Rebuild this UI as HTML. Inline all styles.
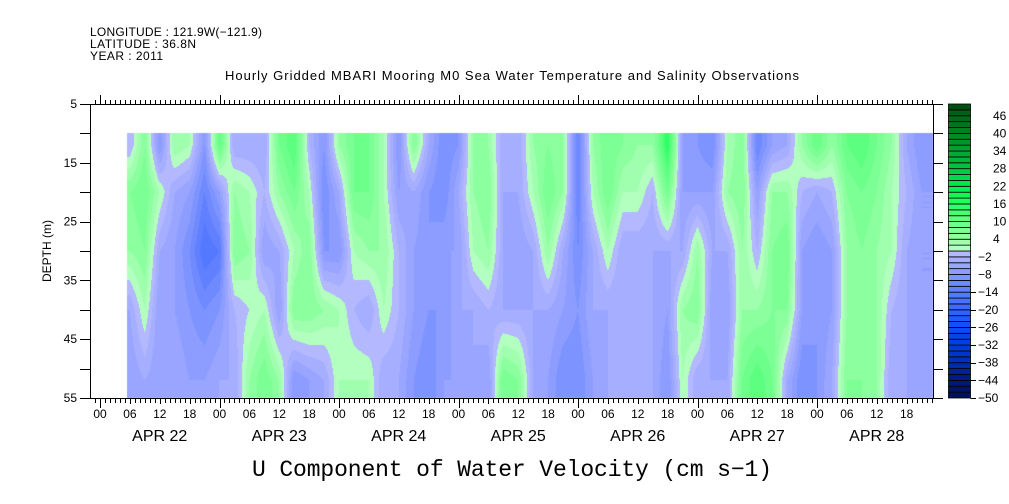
<!DOCTYPE html>
<html><head><meta charset="utf-8">
<style>
html,body{margin:0;padding:0;background:#fff;}
#wrap{position:relative;width:1009px;height:504px;overflow:hidden;}
svg text{font-family:"Liberation Sans",sans-serif;fill:#000;}
canvas{position:absolute;left:0;top:0;}
</style></head>
<body>
<div id="wrap">
<canvas id="heat" width="1009" height="504"></canvas>
<svg id="ov" width="1009" height="504" style="position:absolute;left:0;top:0">
  <text x="90" y="36" font-size="12" textLength="172">LONGITUDE : 121.9W(−121.9)</text>
  <text x="90" y="48" font-size="12" textLength="106">LATITUDE : 36.8N</text>
  <text x="90" y="60" font-size="12" textLength="73">YEAR : 2011</text>
  <text x="512" y="80" font-size="13" text-anchor="middle" textLength="574">Hourly Gridded MBARI Mooring M0 Sea Water Temperature and Salinity Observations</text>
  <text transform="translate(51,251) rotate(-90)" font-size="12" text-anchor="middle">DEPTH (m)</text>
  <text x="512" y="476" font-size="23" text-anchor="middle" textLength="520" style="font-family:'Liberation Mono',monospace">U Component of Water Velocity (cm s−1)</text>
  <g id="axes"></g>
  <g id="cbar"></g>
</svg>
</div>
<script>
// hours since APR 22 00:00 for each column of data
const hours = [6,9,12,15,18,21,24,27,30,33,36,39,42,45,48,51,54,57,60,63,66,69,72,75,78,81,84,87,90,93,96,99,102,105,108,111,114,117,120,123,126,129,132,135,138,141,144,147,150,153,156,159,162,165];
const depths = [12,20,30,40,52];
// U velocity (cm/s) per depth row
const u12 = [-2,6,-8,4,2,-8,10,-4,-4,-4,8,12,-2,-8,4,8,8,2,-8,6,-4,-10,-8,4,4,-4,-4,4,6,4,-12,4,8,6,4,4,16,-6,-8,-10,2,6,-12,-6,-4,4,10,4,10,12,8,4,-4,-8];
const u20 = [6,8,2,-4,-6,-12,-6,4,2,-2,4,8,2,-10,-4,8,8,2,-6,-4,-8,-10,-4,4,6,-4,-4,2,8,4,-12,2,8,2,2,-2,8,-6,-6,-6,4,6,-6,4,4,-2,-4,-2,6,8,6,2,-2,-6];
const u30 = [4,6,-4,-6,-10,-16,-14,6,4,-6,-4,2,6,-8,-8,2,4,4,-2,-6,-8,-6,-6,2,4,-4,-6,-4,4,-4,-10,-4,2,-4,-4,-4,-4,-4,4,-4,-4,4,-2,6,8,-6,-8,-6,4,6,4,2,-4,-6];
const u40 = [-4,2,-6,-6,-8,-10,-8,-2,0,2,-6,6,6,4,2,-2,-4,2,-2,-6,-8,-8,-4,-4,-2,-4,-4,-4,-4,-6,-8,-4,-4,-4,-4,-4,-6,4,6,-6,-6,4,4,6,6,-6,-8,-6,4,6,4,-2,-4,-6];
const u52 = [-6,-4,-6,-4,-6,-6,-4,-4,4,8,4,-8,-6,-4,2,2,2,-4,-4,-8,-10,-6,-6,-4,-6,8,6,-4,-6,-10,-10,-6,-4,-4,-4,-4,-8,2,-4,-4,-4,8,12,8,-4,-10,-8,-4,6,6,4,-4,-4,-6];
const rows = [u12,u20,u30,u40,u52];
const cbTicks = [46,40,34,28,22,16,10,4,-2,-8,-14,-20,-26,-32,-38,-44,-50];
const dayLabels = ["APR 22","APR 23","APR 24","APR 25","APR 26","APR 27","APR 28"];
const depthTicks = [5,15,25,35,45,55];

(function(){
const X0=100, PXH=119.5/24, Y0=104, PXM=294/50, RIGHT=933, DATAL=127, DATAT=10;
const xS = h => X0 + h*PXH;
const yS = d => Y0 + (d-5)*PXM;

const blues=[[-50,[0,16,90]],[-44,[0,26,140]],[-38,[0,48,192]],[-32,[0,64,224]],[-26,[16,80,255]],[-20,[61,107,255]],[-14,[96,128,255]],[-8,[140,156,255]],[-2,[179,184,255]]];
const greens=[[0,[179,255,191]],[4,[140,255,159]],[10,[92,255,128]],[16,[26,255,90]],[22,[0,230,76]],[28,[0,192,64]],[34,[0,160,48]],[40,[0,128,32]],[46,[0,96,24]],[50,[0,64,16]]];
function lerpPal(p,v){ if(v<=p[0][0])return p[0][1]; for(let i=1;i<p.length;i++){if(v<=p[i][0]){const t=(v-p[i-1][0])/(p[i][0]-p[i-1][0]);return p[i-1][1].map((c,k)=>Math.round(c+(p[i][1][k]-c)*t));}} return p[p.length-1][1];}
function colorFor(v){ let lv=Math.floor(v/2)*2; lv=Math.max(-50,Math.min(48,lv)); return lv<0? lerpPal(blues,lv): lerpPal(greens,lv);}

function sample(h,d){
  let i=0; while(i<hours.length-2 && h>hours[i+1]) i++;
  let tx=(h-hours[i])/(hours[i+1]-hours[i]); tx=Math.max(0,Math.min(1,tx));
  let j=0; while(j<depths.length-2 && d>depths[j+1]) j++;
  let ty=(d-depths[j])/(depths[j+1]-depths[j]); ty=Math.max(0,Math.min(1,ty));
  const a=rows[j][i]*(1-tx)+rows[j][i+1]*tx, b=rows[j+1][i]*(1-tx)+rows[j+1][i+1]*tx;
  return a*(1-ty)+b*ty;
}
const cv=document.getElementById('heat'), ctx=cv.getContext('2d');
const topY=Math.round(yS(DATAT)), botY=Math.round(yS(55));
const W=RIGHT-DATAL, H=botY-topY;
const img=ctx.createImageData(W, H);
for(let px=DATAL;px<RIGHT;px++){const h=(px+0.5-X0)/PXH;
  for(let py=topY;py<botY;py++){const d=5+(py+0.5-Y0)/PXM; const c=colorFor(sample(h,d));
    const k=((py-topY)*W+(px-DATAL))*4; img.data[k]=c[0];img.data[k+1]=c[1];img.data[k+2]=c[2];img.data[k+3]=255;}}
ctx.putImageData(img,DATAL,topY);

const NS='http://www.w3.org/2000/svg';
const axes=document.getElementById('axes'), cb=document.getElementById('cbar');
function ln(g,x1,y1,x2,y2,name){const l=document.createElementNS(NS,'line');l.setAttribute('x1',x1);l.setAttribute('y1',y1);l.setAttribute('x2',x2);l.setAttribute('y2',y2);l.setAttribute('stroke','#000');l.setAttribute('stroke-width','1');


g.appendChild(l);return l;}
function tx(g,x,y,s,size,anchor,name){const t=document.createElementNS(NS,'text');t.setAttribute('x',x);t.setAttribute('y',y);t.setAttribute('font-size',size);t.setAttribute('text-anchor',anchor);t.textContent=s;


g.appendChild(t);return t;}
ln(axes,90.5,104,90.5,398,'y-axis-line');
ln(axes,RIGHT+0.5,104,RIGHT+0.5,398,'right-axis-line');
ln(axes,90,104.5,RIGHT,104.5,'top-axis-line');
ln(axes,90,398.5,RIGHT,398.5,'x-axis-line');
for(let h=-2;xS(h)<=RIGHT+0.1;h++){ if(xS(h)<90.5)continue; const x=Math.round(xS(h))+0.5;
  const major=h%24===0, mid=h%6===0;
  ln(axes,x,104,x,104-(major?9:4),'top-tick');
  ln(axes,x,398,x,398+(major?10:(mid?6:5)),'x-tick');
  if(mid) tx(axes,xS(h),418,String(((h%24)+24)%24).padStart(2,'0'),12,'middle','x-tick-label');
}
dayLabels.forEach((s,i)=>tx(axes,xS(i*24+12),441,s,16,'middle','day-label'));
for(let d=5;d<=55;d+=5){const y=Math.round(yS(d))+0.5;
  ln(axes,80,y,90,y,'y-tick'); ln(axes,RIGHT,y,RIGHT+10,y,'right-tick');}
depthTicks.forEach(d=>tx(axes,77,yS(d)+4,String(d),12,'end','y-tick-label'));
for(let v=-50;v<50;v+=2){const y0=yS(5+(50-v-2)/2), c=colorFor(v+0.5);
  const r=document.createElementNS(NS,'rect');r.setAttribute('x',948.5);r.setAttribute('y',y0);r.setAttribute('width',22);r.setAttribute('height',PXM);
  r.setAttribute('fill',`rgb(${c[0]},${c[1]},${c[2]})`);r.setAttribute('stroke','#000');r.setAttribute('stroke-width','0.8');
  
  
  cb.appendChild(r);}
cbTicks.forEach(v=>{const y=yS(5+(50-v)/2); if(v<=-14) ln(cb,970.5,Math.round(y)+0.5,976,Math.round(y)+0.5,'colorbar-tick'); tx(cb,v<0?978:993,y+4,v<0?'−'+(-v):String(v),12,'start','colorbar-label');});
})();
</script>
</body></html>
